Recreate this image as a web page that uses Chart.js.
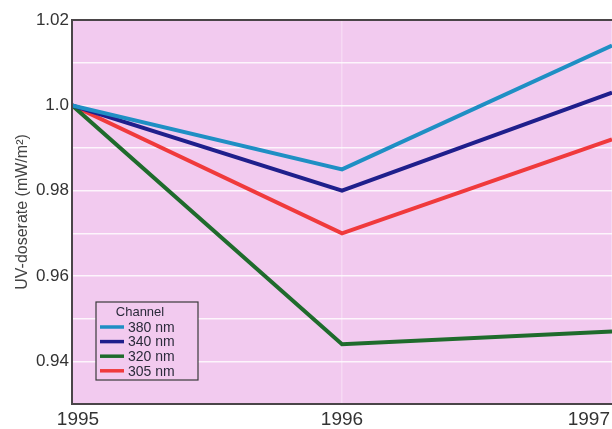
<!DOCTYPE html>
<html>
<head>
<meta charset="utf-8">
<script src="https://cdn.jsdelivr.net/npm/chart.js@4/dist/chart.umd.min.js"></script>
<style>
  html, body { margin: 0; padding: 0; background: #ffffff; }
  #wrap { width: 612px; height: 429px; }
</style>
</head>
<body>
<div id="wrap"><canvas id="c" width="612" height="429"></canvas></div>
<script>
// Relative UV dose rate per measurement channel, 1995-1997
const years = [1995, 1996, 1997];
const yearLabels = ['1995', '1996', '1997'];
const channels = ['380 nm', '340 nm', '320 nm', '305 nm'];
const uv380 = [1.000, 0.985, 1.014];
const uv340 = [1.000, 0.980, 1.003];
const uv320 = [1.000, 0.944, 0.947];
const uv305 = [1.000, 0.970, 0.992];
const channelColors = ['#1f8fc4', '#1f1f8c', '#1f6b2c', '#f03a3c'];

const series = [uv380, uv340, uv320, uv305];

const datasets = series.map((vals, i) => ({
  label: channels[i],
  data: vals.map((v, k) => ({ x: years[k], y: v })),
  borderColor: channelColors[i],
  backgroundColor: channelColors[i],
  borderWidth: 4,
  pointRadius: 0,
  tension: 0,
  fill: false
}));

// Plot background, frame, x labels and the boxed "Channel" legend
const decor = {
  id: 'decor',
  beforeDraw(chart) {
    const { ctx, chartArea: a } = chart;
    ctx.save();
    ctx.fillStyle = 'rgb(242,202,239)';
    ctx.fillRect(a.left, a.top, a.right - a.left, a.bottom - a.top);
    ctx.restore();
  },
  afterDatasetsDraw(chart) {
    const { ctx, chartArea: a, scales } = chart;
    ctx.save();
    // frame
    ctx.strokeStyle = '#4a4548';
    ctx.lineWidth = 2;
    ctx.beginPath();
    ctx.moveTo(a.right + 2, a.top);
    ctx.lineTo(a.left, a.top);
    ctx.lineTo(a.left, a.bottom);
    ctx.lineTo(a.right + 2, a.bottom);
    ctx.stroke();

    // x tick labels, kept inside the canvas
    ctx.font = '19px "Liberation Sans", Arial, sans-serif';
    ctx.fillStyle = '#333333';
    ctx.textBaseline = 'top';
    ctx.textAlign = 'center';
    years.forEach((yr, i) => {
      const txt = yearLabels[i];
      const w = ctx.measureText(txt).width;
      let x = scales.x.getPixelForValue(yr);
      x = Math.max(w / 2 + 2, Math.min(chart.width - w / 2 - 2, x));
      ctx.fillText(txt, x + (i === 0 ? 6 : 0), a.bottom + 6);
    });

    // legend box
    const lx = a.left + 24, ly = a.top + 282, lw = 102, lh = 78;
    ctx.fillStyle = 'rgb(242,202,239)';
    ctx.fillRect(lx, ly, lw, lh);
    ctx.strokeStyle = '#3a3a3a';
    ctx.lineWidth = 1.2;
    ctx.strokeRect(lx, ly, lw, lh);
    ctx.fillStyle = '#2a2a3a';
    ctx.font = '13px "Liberation Sans", Arial, sans-serif';
    ctx.textAlign = 'center';
    ctx.textBaseline = 'middle';
    ctx.fillText('Channel', lx + 44, ly + 10);
    ctx.font = '14px "Liberation Sans", Arial, sans-serif';
    ctx.textAlign = 'left';
    chart.data.datasets.forEach((ds, i) => {
      const ry = ly + 25 + i * 14.6;
      ctx.strokeStyle = ds.borderColor;
      ctx.lineWidth = 3.5;
      ctx.beginPath();
      ctx.moveTo(lx + 4, ry);
      ctx.lineTo(lx + 28, ry);
      ctx.stroke();
      ctx.fillStyle = '#2a2a3a';
      ctx.fillText(ds.label, lx + 32, ry + 1);
    });
    ctx.restore();
  }
};

new Chart(document.getElementById('c'), {
  type: 'line',
  data: { datasets },
  plugins: [decor],
  options: {
    responsive: false,
    animation: false,
    devicePixelRatio: 1,
    layout: { padding: { top: 20, right: 0, left: 0, bottom: 0 } },
    plugins: {
      legend: { display: false },
      tooltip: { enabled: false }
    },
    scales: {
      x: {
        type: 'linear',
        min: 1995,
        max: 1997,
        ticks: { display: false, stepSize: 1 },
        grid: { color: 'rgba(255,255,255,0.3)', lineWidth: 1.5, drawTicks: false },
        border: { display: false },
        afterFit(scale) { scale.height = 25; }
      },
      y: {
        min: 0.93,
        max: 1.02,
        ticks: {
          stepSize: 0.01,
          padding: 3,
          color: '#333333',
          font: { size: 17, family: '"Liberation Sans", Arial, sans-serif' },
          callback(v) {
            const h = Math.round(v * 100);
            if (h % 2 !== 0 || h < 94) return '';
            return h === 100 ? '1.0' : (h / 100).toFixed(2);
          }
        },
        grid: { color: 'rgba(255,255,255,0.8)', lineWidth: 1.5, drawTicks: false },
        border: { display: false },
        title: {
          display: true,
          text: 'UV-doserate (mW/m²)',
          color: '#444444',
          font: { size: 16, family: '"Liberation Sans", Arial, sans-serif' },
          padding: { top: 13, bottom: 0 }
        },
        afterFit(scale) { scale.width = 72; }
      }
    }
  }
});
</script>
</body>
</html>
